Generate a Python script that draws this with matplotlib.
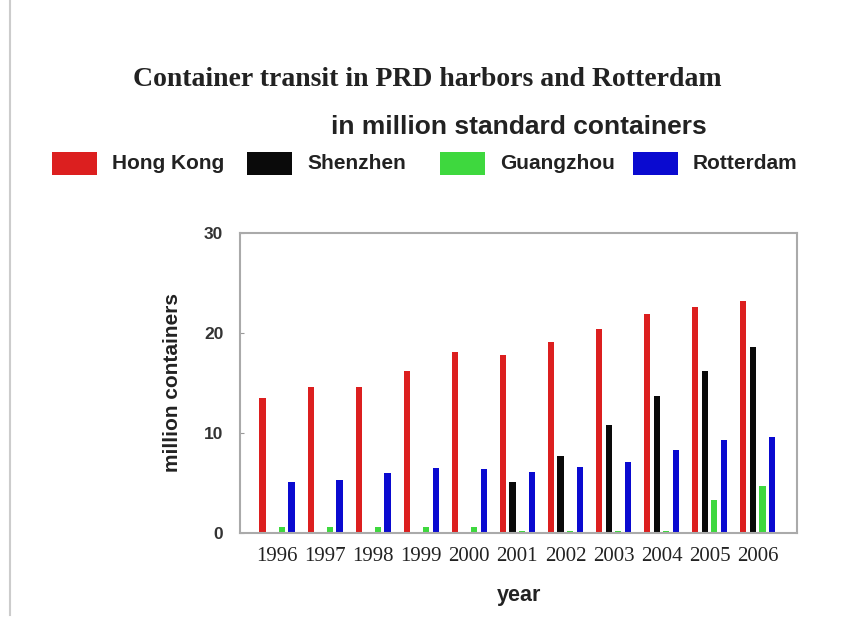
import numpy as np
import matplotlib.pyplot as plt
from matplotlib.patches import Rectangle
from matplotlib.lines import Line2D

years = ['1996', '1997', '1998', '1999', '2000', '2001',
         '2002', '2003', '2004', '2005', '2006']
hong_kong = [13.5, 14.6, 14.6, 16.2, 18.1, 17.8, 19.1, 20.4, 21.9, 22.6, 23.2]
shenzhen = [0, 0, 0, 0, 0, 5.1, 7.7, 10.8, 13.7, 16.2, 18.6]
guangzhou = [0.6, 0.6, 0.6, 0.6, 0.6, 0.2, 0.2, 0.2, 0.2, 3.3, 4.7]
rotterdam = [5.1, 5.3, 6.0, 6.5, 6.4, 6.1, 6.6, 7.1, 8.3, 9.3, 9.6]

series = [('Hong Kong', hong_kong, '#dc1f1f'),
          ('Shenzhen', shenzhen, '#0a0a0a'),
          ('Guangzhou', guangzhou, '#3ed83e'),
          ('Rotterdam', rotterdam, '#0a0ad0')]

fig = plt.figure(figsize=(8.64, 6.44), dpi=100)
ax = fig.add_axes([0.2778, 0.1724, 0.6447, 0.4658])

x = np.arange(len(years))
offsets = [-0.3, -0.1, 0.1, 0.3]
for (name, vals, col), off in zip(series, offsets):
    ax.bar(x + off, vals, width=0.13, color=col, linewidth=0)

ax.set_xlim(-0.77, 10.82)
ax.set_ylim(0, 30)
ax.set_yticks([0, 10, 20, 30])
ax.set_yticklabels(['0', '10', '20', '30'], fontsize=12.5, fontweight='bold',
                   color='#333333', family='Liberation Sans')
ax.set_xticks(x)
ax.set_xticklabels(years, fontsize=15, family='Liberation Serif', color='#222222')
ax.tick_params(axis='y', direction='in', length=3, color='#999999', pad=12)
ax.tick_params(axis='x', length=0, pad=10)
for sp in ax.spines.values():
    sp.set_color('#aaaaaa')
    sp.set_linewidth(1.5)

ax.set_xlabel('year', fontsize=15.5, fontweight='bold', family='Liberation Sans',
              color='#222222', labelpad=14)
ax.set_ylabel('million containers', fontsize=15, fontweight='bold',
              family='Liberation Sans', color='#222222', labelpad=16)

fig.text(0.495, 0.876, 'Container transit in PRD harbors and Rotterdam',
         ha='center', va='center', fontsize=20, fontweight='bold',
         family='Liberation Serif', color='#222222')
fig.text(0.6, 0.803, 'in million standard containers',
         ha='center', va='center', fontsize=19, fontweight='bold',
         family='Liberation Sans', color='#222222')

# legend row drawn by hand across the figure
patch_x = [52, 247, 440, 633]
for (name, vals, col), px in zip(series, patch_x):
    fig.patches.append(Rectangle((px / 864, 1 - 175 / 644), 45 / 864, 23 / 644,
                                 transform=fig.transFigure, facecolor=col,
                                 edgecolor='none'))
    fig.text((px + 60) / 864, 1 - 164 / 644, name, ha='left', va='center',
             fontsize=15, fontweight='bold', family='Liberation Sans',
             color='#222222')

fig.lines.append(Line2D([10 / 864, 10 / 864], [1 - 615 / 644, 1.0],
                        transform=fig.transFigure, color='#cccccc', linewidth=1.5))

fig.savefig('out.png', dpi=100, facecolor='white')
